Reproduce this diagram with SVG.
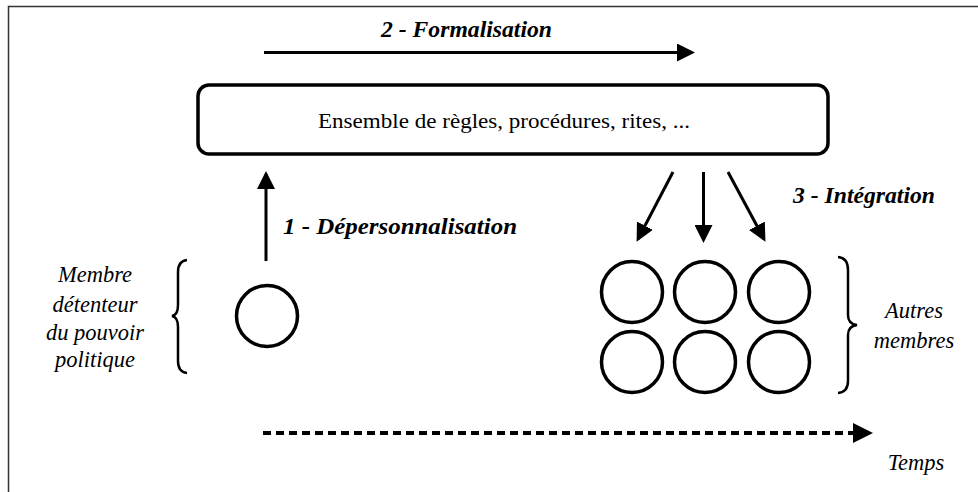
<svg xmlns="http://www.w3.org/2000/svg" width="978" height="492" viewBox="0 0 978 492">
<defs>
<style>
.t{font-family:"Liberation Serif","Times New Roman","DejaVu Serif",serif;fill:#000}
.bi{font-weight:bold;font-style:italic;font-size:23px}
.it{font-style:italic;font-size:22.5px}
.rg{font-size:22px}
.ln{stroke:#000;stroke-width:3;fill:none}
.node{fill:#fff;stroke:#000;stroke-width:3.5}
.br{fill:none;stroke:#000;stroke-width:2.5}
</style>
<marker id="ah" markerWidth="6" markerHeight="6" refX="5" refY="3" orient="auto" markerUnits="strokeWidth" viewBox="0 0 6 6">
<path d="M0,0 L6,3 L0,6 Z" fill="#000"/>
</marker>
<marker id="ah2" markerWidth="5" markerHeight="5" refX="4" refY="2.5" orient="auto" markerUnits="strokeWidth" viewBox="0 0 5 5">
<path d="M0,0 L5,2.5 L0,5 Z" fill="#000"/>
</marker>
</defs>
<rect width="978" height="492" fill="#fff"/>
<path d="M8.5,492 V6.5 H978" fill="none" stroke="#333" stroke-width="1.5"/>

<g id="rules">
<rect x="198" y="85" width="630" height="69" rx="11" ry="11" class="node"/>
<text class="t rg" x="318" y="128" textLength="372" lengthAdjust="spacingAndGlyphs">Ensemble de règles, procédures, rites, ...</text>
</g>

<g id="leader">
<circle cx="267" cy="316" r="30.5" class="node"/>
</g>

<g id="members">
<circle cx="632" cy="292" r="30.5" class="node"/>
<circle cx="705" cy="292" r="30.5" class="node"/>
<circle cx="779" cy="292" r="30.5" class="node"/>
<circle cx="632" cy="362" r="30.5" class="node"/>
<circle cx="705" cy="362" r="30.5" class="node"/>
<circle cx="779" cy="362" r="30.5" class="node"/>
</g>

<g id="connectors">
<line x1="264" y1="52.5" x2="692" y2="52.5" class="ln" marker-end="url(#ah)"/>
<line x1="266" y1="261" x2="266" y2="174" class="ln" marker-end="url(#ah)"/>
<line x1="673" y1="172" x2="638" y2="239" class="ln" marker-end="url(#ah)"/>
<line x1="703.5" y1="172" x2="703.5" y2="240" class="ln" marker-end="url(#ah)"/>
<line x1="728" y1="172" x2="764" y2="239" class="ln" marker-end="url(#ah)"/>
<line x1="263" y1="433" x2="869" y2="433" stroke="#000" stroke-width="4" stroke-dasharray="8 5" fill="none" marker-end="url(#ah2)"/>
</g>

<g id="braces">
<path class="br" d="M187,260 Q178,261 178,272 V305 Q178,315 172,316 Q178,317 178,327 V361 Q178,372 187,373"/>
<path class="br" d="M838,257 Q848,258 848,270 V315 Q848,324 857,325 Q848,326 848,335 V381 Q848,392 838,393"/>
</g>

<g id="labels">
<text class="t bi" x="381" y="37" textLength="171" lengthAdjust="spacingAndGlyphs">2 - Formalisation</text>
<text class="t bi" x="283" y="234" textLength="234" lengthAdjust="spacingAndGlyphs">1 - Dépersonnalisation</text>
<text class="t bi" x="793" y="203" textLength="142" lengthAdjust="spacingAndGlyphs">3 - Intégration</text>
<text class="t it" text-anchor="middle"><tspan x="95" y="282">Membre</tspan><tspan x="95" y="312">détenteur</tspan><tspan x="95" y="340">du pouvoir</tspan><tspan x="95" y="367">politique</tspan></text>
<text class="t it" text-anchor="middle"><tspan x="914" y="318">Autres</tspan><tspan x="914" y="348">membres</tspan></text>
<text class="t it" x="916" y="470" text-anchor="middle">Temps</text>
</g>
</svg>
